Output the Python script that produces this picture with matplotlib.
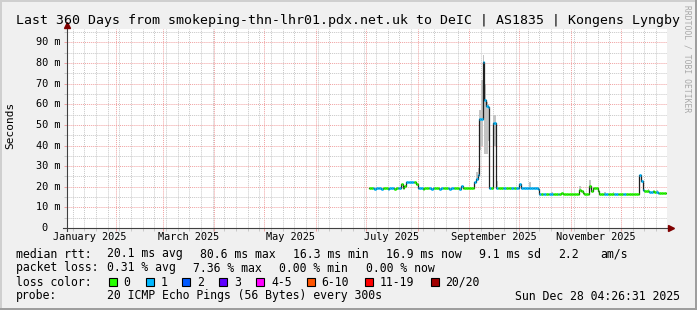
import datetime as dt

import matplotlib
matplotlib.use('Agg')
import matplotlib.pyplot as plt
import matplotlib.dates as mdates
import matplotlib.transforms as mtransforms
from matplotlib.collections import LineCollection
from matplotlib.patches import Rectangle
from matplotlib.ticker import MultipleLocator
import numpy as np

# ---- data ----
first_day = '2025-07-03'
# daily median rtt in ms, 2025-07-03 .. 2025-12-27
median_ms = [
    19.2, 19.2, 19.2, 19.1, 19.2, 19.2, 19.2, 19.1, 19.2, 19.2,
    19.2, 19.1, 19.2, 19.2, 19.2, 19.1, 19.2, 19.2, 19.2, 21.2,
    19.2, 20.4, 22.4, 22.5, 22.5, 22.5, 22.5, 22.5, 21.3, 19.3,
    19.2, 19.2, 19.1, 19.2, 19.2, 19.2, 19.2, 19.1, 19.2, 19.2,
    19.2, 19.2, 19.1, 19.2, 19.2, 19.2, 19.2, 19.2, 19.1, 19.2,
    19.2, 19.2, 19.2, 19.2, 19.1, 20.5, 19.2, 19.2, 19.2, 19.2,
    19.2, 19.2, 19.3, 22.5, 24.0, 25.5, 53.0, 53.0, 80.6, 62.0,
    59.0, 58.5, 19.5, 19.3, 51.0, 51.0, 19.4, 19.3, 19.2, 19.2,
    19.3, 19.2, 19.2, 19.2, 19.3, 19.2, 19.2, 19.2, 19.2, 19.2,
    21.5, 19.3, 19.2, 19.2, 19.2, 19.2, 19.2, 19.2, 19.2, 19.2,
    19.2, 19.1, 16.6, 16.5, 16.5, 16.5, 16.5, 16.5, 16.5, 16.5,
    16.5, 16.5, 16.5, 16.5, 16.6, 17.2, 16.6, 16.5, 16.5, 16.5,
    16.5, 16.5, 16.5, 16.5, 16.5, 16.5, 18.3, 18.0, 16.8, 16.5,
    16.5, 16.6, 20.3, 18.0, 19.6, 19.6, 19.6, 18.0, 16.5, 16.5,
    16.5, 16.6, 16.5, 16.5, 16.5, 16.5, 16.6, 16.5, 16.5, 16.5,
    16.5, 16.5, 16.5, 16.6, 16.5, 16.5, 16.5, 16.5, 16.5, 16.5,
    16.5, 16.6, 25.8, 23.0, 18.2, 17.8, 17.9, 17.8, 17.5, 17.5,
    17.8, 17.3, 17.4, 17.2, 17.2, 17.2, 17.0, 16.9,
]
# lost pings per day (0 -> green, 1 -> blue)
loss = [
    0, 0, 1, 1, 1, 1, 1, 1, 0, 0,
    0, 1, 1, 1, 1, 0, 0, 1, 1, 0,
    0, 0, 1, 1, 1, 1, 1, 0, 0, 1,
    1, 1, 0, 0, 0, 0, 1, 1, 1, 0,
    0, 0, 1, 1, 0, 0, 0, 1, 1, 1,
    1, 0, 0, 0, 1, 1, 0, 0, 0, 0,
    0, 0, 0, 1, 1, 1, 1, 1, 1, 1,
    1, 1, 1, 0, 1, 1, 1, 0, 0, 0,
    1, 1, 0, 0, 0, 1, 1, 0, 1, 1,
    1, 1, 1, 1, 1, 1, 1, 1, 1, 1,
    1, 1, 1, 0, 1, 1, 0, 0, 1, 1,
    0, 0, 0, 1, 0, 0, 0, 0, 0, 0,
    0, 0, 0, 0, 0, 0, 0, 0, 0, 0,
    0, 0, 0, 0, 0, 0, 0, 0, 0, 0,
    0, 1, 1, 0, 0, 0, 0, 1, 1, 0,
    0, 0, 1, 1, 0, 0, 0, 0, 0, 0,
    0, 0, 1, 1, 1, 0, 0, 0, 1, 1,
    0, 0, 1, 1, 0, 0, 0, 0,
]
# smoke (spread of the pings) where it is visible
smoke_days = ['2025-09-05', '2025-09-06', '2025-09-07', '2025-09-08', '2025-09-09',
              '2025-09-10', '2025-09-11', '2025-09-12', '2025-09-15', '2025-09-16',
              '2025-09-17', '2025-10-07', '2025-10-20', '2025-11-06', '2025-11-12',
              '2025-11-21', '2025-11-26', '2025-12-17', '2025-12-22']
smoke_lo = [23.0, 25.0, 38.0, 40.0, 66.0, 36.0, 36.0, 42.0, 40.0, 40.0,
            19.0, 19.0, 16.5, 18.0, 19.0, 16.5, 16.5, 17.5, 17.0]
smoke_hi = [27.0, 29.0, 57.0, 72.0, 84.0, 70.0, 61.0, 60.0, 55.0, 55.0,
            23.0, 22.5, 17.6, 20.4, 23.3, 17.5, 17.5, 18.8, 18.4]

y_ticks = [0, 10, 20, 30, 40, 50, 60, 70, 80, 90]
y_tick_labels = ['0', '10 m', '20 m', '30 m', '40 m', '50 m', '60 m', '70 m', '80 m', '90 m']
month_labels = ['January 2025', 'March 2025', 'May 2025', 'July 2025',
                'September 2025', 'November 2025']
month_label_months = [1, 3, 5, 7, 9, 11]

loss_names = ['0', '1', '2', '3', '4-5', '6-10', '11-19', '20/20']
loss_colors = ['#26ff00', '#00b8ff', '#0059ff', '#5e00ff', '#ff00ff',
               '#ff5500', '#ff0000', '#a10000']

title = 'Last 360 Days from smokeping-thn-lhr01.pdx.net.uk to DeIC | AS1835 | Kongens Lyngby'
stats_rtt = ['20.1 ms avg', '80.6 ms max', '16.3 ms min', '16.9 ms now', '9.1 ms sd', '2.2', 'am/s']
stats_loss = ['0.31 % avg', '7.36 % max', '0.00 % min', '0.00 % now']
probe_text = '20 ICMP Echo Pings (56 Bytes) every 300s'
stamp = 'Sun Dec 28 04:26:31 2025'

# ---- figure ----
W, H = 697, 310
MONO = 'DejaVu Sans Mono'
fig = plt.figure(figsize=(W / 100, H / 100), dpi=100, facecolor='#f0f0f0')


def px(x, y):
    return x / W, 1 - y / H


# plot area in pixels: x 67..667, y 29..228
ax = fig.add_axes([67 / W, 1 - 228 / H, 600 / W, 199 / H])
ax.set_facecolor('white')

start = np.datetime64(first_day)
days = start + np.arange(len(median_ms)).astype('timedelta64[D]')
t0 = mdates.date2num(days)
t1 = t0 + 1.0
vals = np.array(median_ms)

# smoke
sd = mdates.date2num(np.array(smoke_days, dtype='datetime64[D]'))
ax.bar(sd, np.array(smoke_hi) - np.array(smoke_lo), bottom=smoke_lo, width=1.0,
       align='edge', color='#c4c4c4', zorder=2)

# thin dark median line (shows the jumps), then coloured segments by loss
step_x = np.column_stack([t0, t1]).ravel()
step_y = np.repeat(vals, 2)
ax.plot(step_x, step_y, color='#202020', lw=0.9, zorder=3)
segs = [[(a, v), (b, v)] for a, b, v in zip(t0, t1, vals)]
cols = [loss_colors[k] for k in loss]
ax.add_collection(LineCollection(segs, colors=cols, linewidths=1.9, zorder=4,
                                 capstyle='butt'))

ax.set_xlim(dt.datetime(2025, 1, 2, 15), dt.datetime(2025, 12, 28, 15))
ax.set_ylim(0, 96.5)

# grid
ax.xaxis.set_major_locator(mdates.MonthLocator())
ax.xaxis.set_minor_locator(mdates.WeekdayLocator(byweekday=mdates.MO))
ax.yaxis.set_major_locator(MultipleLocator(10))
ax.yaxis.set_minor_locator(MultipleLocator(5))
ax.grid(which='minor', color='#c8c8c8', ls=(0, (1, 1)), lw=0.7)
ax.grid(which='major', color='#f0a0a0', ls=(0, (1, 1)), lw=0.7)
ax.set_axisbelow(True)
ax.tick_params(which='major', length=2.5, width=0.7, color='#f0a0a0',
               labelbottom=False, labelleft=False)
ax.tick_params(which='minor', length=2, width=0.7, color='#c8c8c8')
for s in ax.spines.values():
    s.set_visible(False)

# axes with arrows
ax.plot([0, 0], [-0.015, 1.02], transform=ax.transAxes, color='#404040',
        lw=0.8, clip_on=False, zorder=5)
ax.plot([-0.007, 1.005], [0, 0], transform=ax.transAxes, color='#404040',
        lw=0.8, clip_on=False, zorder=5)
ax.plot([0], [1.022], marker='^', ms=4.5, color='#7f0000', transform=ax.transAxes,
        clip_on=False, zorder=6)
ax.plot([1.006], [0], marker='>', ms=4.5, color='#7f0000', transform=ax.transAxes,
        clip_on=False, zorder=6)

# y tick labels
ytr = mtransforms.blended_transform_factory(fig.transFigure, ax.transData)
for v, lab in zip(y_ticks, y_tick_labels):
    xr = 47 if lab == '0' else 60.5
    ax.text(xr / W, v, lab, transform=ytr, ha='right', va='center',
            fontsize=7.4, family=MONO, color='#000000')

# month labels, centred in the month
xtr = mtransforms.blended_transform_factory(ax.transData, fig.transFigure)
for m, lab in zip(month_label_months, month_labels):
    a = dt.datetime(2025, m, 1)
    b = dt.datetime(2025, m + 1, 1)
    mid = a + (b - a) / 2
    ax.text(mid, 1 - 240.5 / H, lab, transform=xtr, ha='center', va='baseline',
            fontsize=7.4, family=MONO)

fig.text(*px(10.5, 125), 'Seconds', rotation=90, ha='center', va='center',
         fontsize=8, family=MONO)
fig.text(*px(348.5, 24), title, ha='center', va='baseline', fontsize=9.5, family=MONO)
fig.text(*px(687.5, 5), 'RRDTOOL / TOBI OETIKER', rotation=270, ha='center', va='top',
         fontsize=5.8, family=MONO, color='#a8a8a8')

# legend rows
fs = 8.3
fig.text(*px(16, 257.5), 'median rtt:', fontsize=fs, family=MONO, va='baseline')
for x, s in zip([107, 200, 293, 386, 479, 558, 600], stats_rtt):
    fig.text(*px(x, 257.5), s, fontsize=fs, family=MONO, va='baseline')
fig.text(*px(16, 271.5), 'packet loss:', fontsize=fs, family=MONO, va='baseline')
for x, s in zip([107, 193, 279, 365.5], stats_loss):
    fig.text(*px(x, 271.5), s, fontsize=fs, family=MONO, va='baseline')
fig.text(*px(16, 285.5), 'loss color:', fontsize=fs, family=MONO, va='baseline')
for x, name, c in zip([108.5, 145.5, 182, 219, 256, 306.5, 365, 430.5],
                      loss_names, loss_colors):
    fig.patches.append(Rectangle(px(x, 286), 8 / W, 8 / H, transform=fig.transFigure,
                                 facecolor=c, edgecolor='black', lw=0.8))
    fig.text(*px(x + 15, 285.5), name, fontsize=fs, family=MONO, va='baseline')
fig.text(*px(16, 299.5), 'probe:', fontsize=fs, family=MONO, va='baseline')
fig.text(*px(107, 299.5), probe_text, fontsize=fs, family=MONO, va='baseline')
fig.text(*px(680, 299.5), stamp, fontsize=fs, family=MONO, va='baseline', ha='right')

# 3d-ish canvas border
fig.patches.append(Rectangle((0, 1 - 2 / H), 1, 2 / H, transform=fig.transFigure,
                             facecolor='#cfcfcf', lw=0))
fig.patches.append(Rectangle((0, 0), 2 / W, 1, transform=fig.transFigure,
                             facecolor='#cfcfcf', lw=0))
fig.patches.append(Rectangle((0, 0), 1, 2 / H, transform=fig.transFigure,
                             facecolor='#9e9e9e', lw=0))
fig.patches.append(Rectangle((1 - 2 / W, 0), 2 / W, 1, transform=fig.transFigure,
                             facecolor='#9e9e9e', lw=0))

fig.savefig('out.png', dpi=100, facecolor=fig.get_facecolor())
